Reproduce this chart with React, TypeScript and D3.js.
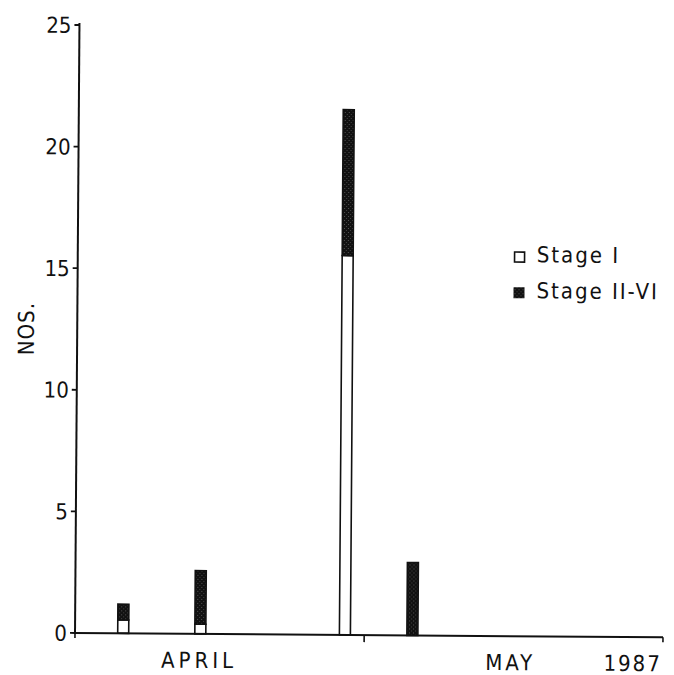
import React from "react";
import * as d3 from "d3";

const sampleDates = ["1987-04-06", "1987-04-14", "1987-04-29", "1987-05-06"];
const stageI = [0.55, 0.4, 15.6, 0];
const stageIIVI = [0.65, 2.2, 6.0, 3.0];
const yTicks = [0, 5, 10, 15, 20, 25];
const monthLabels = ["APRIL", "MAY"];
const yearLabel = "1987";
const seriesNames = ["Stage I", "Stage II-VI"];

const W = 674;
const H = 675;
const FONT = "'Liberation Sans Narrow', 'DejaVu Sans Condensed', 'Liberation Sans', sans-serif";

export default function App() {
  const parse = d3.utcParse("%Y-%m-%d");
  const x = d3
    .scaleUtc()
    .domain([Date.UTC(1987, 3, 1), Date.UTC(1987, 5, 1)])
    .range([75, 663]);
  const y = d3.scaleLinear().domain([0, 25]).range([633, 25]);

  const rows = sampleDates.map((d, i) => ({
    date: parse(d) as Date,
    s1: stageI[i],
    s2: stageIIVI[i],
  }));
  const stack = d3.stack<any>().keys(["s1", "s2"]);
  const layers = stack(rows);
  const barW = 11;

  const x0 = x.range()[0];
  const y0 = y(0);
  const mayTick = x(Date.UTC(1987, 4, 1));
  const aprilMid = x(Date.UTC(1987, 3, 14)) - 1;
  const mayMid = x(Date.UTC(1987, 4, 17)) - 8;

  return (
    <svg width={W} height={H} style={{ display: "block", position: "absolute", left: 0, top: 0, background: "#fff" }}>
      <defs>
        <pattern id="stip" width="4" height="4" patternUnits="userSpaceOnUse">
          <rect width="4" height="4" fill="#111" />
          <rect x="1" y="2" width="1" height="1" fill="#555" />
          <rect x="3" y="0" width="1" height="1" fill="#444" />
        </pattern>
      </defs>
      <g transform={`rotate(0.42 ${x0} ${y0})`} fontFamily={FONT} fill="#111">
        {/* bars */}
        {layers.map((layer, li) =>
          layer.map((seg, i) => {
            const h = y(seg[0]) - y(seg[1]);
            if (h <= 0) return null;
            const cx = x(rows[i].date);
            return (
              <rect
                key={`${li}-${i}`}
                x={cx - barW / 2}
                y={y(seg[1])}
                width={barW}
                height={h}
                fill={li === 0 ? "#ffffff" : "url(#stip)"}
                stroke="#111"
                strokeWidth={1.6}
              />
            );
          })
        )}

        {/* y axis */}
        <line x1={x0} x2={x0} y1={y(25) - 2} y2={y0 + 1} stroke="#111" strokeWidth={2} />
        {yTicks.map((t) => (
          <g key={t}>
            <line x1={x0 - 5} x2={x0} y1={y(t)} y2={y(t)} stroke="#111" strokeWidth={1.8} />
            <text x={x0 - 8} y={y(t)} dy="0.36em" textAnchor="end" fontSize={22}>
              {t}
            </text>
          </g>
        ))}
        <text
          transform={`translate(24 ${y(12.5)}) rotate(-90)`}
          textAnchor="middle"
          fontSize={22}
          letterSpacing={1}
          dy="0.35em"
        >
          NOS.
        </text>

        {/* x axis */}
        <line x1={x0} x2={x.range()[1]} y1={y0} y2={y0} stroke="#111" strokeWidth={2} />
        <line x1={x0} x2={x0} y1={y0} y2={y0 + 5} stroke="#111" strokeWidth={1.6} />
        <line x1={mayTick} x2={mayTick} y1={y0} y2={y0 + 7} stroke="#111" strokeWidth={1.6} />
        <line x1={x.range()[1]} x2={x.range()[1]} y1={y0} y2={y0 + 5} stroke="#111" strokeWidth={1.6} />
        <text x={aprilMid} y={y0 + 34} textAnchor="middle" fontSize={22} letterSpacing={4}>
          {monthLabels[0]}
        </text>
        <text x={mayMid} y={y0 + 34} textAnchor="middle" fontSize={22} letterSpacing={3}>
          {monthLabels[1]}
        </text>
        <text x={x.range()[1] - 1} y={y0 + 34} textAnchor="end" fontSize={22} letterSpacing={2}>
          {yearLabel}
        </text>

        {/* legend */}
        <g transform="translate(511 248)">
          <rect x={0.8} y={0.8} width={10} height={10} fill="#fff" stroke="#111" strokeWidth={1.6} />
          <text x={23} y={11} fontSize={22} letterSpacing={2}>
            {seriesNames[0]}
          </text>
          <rect x={0} y={36} width={11} height={11} fill="url(#stip)" />
          <text x={23} y={47} fontSize={22} letterSpacing={2}>
            {seriesNames[1]}
          </text>
        </g>
      </g>
    </svg>
  );
}
